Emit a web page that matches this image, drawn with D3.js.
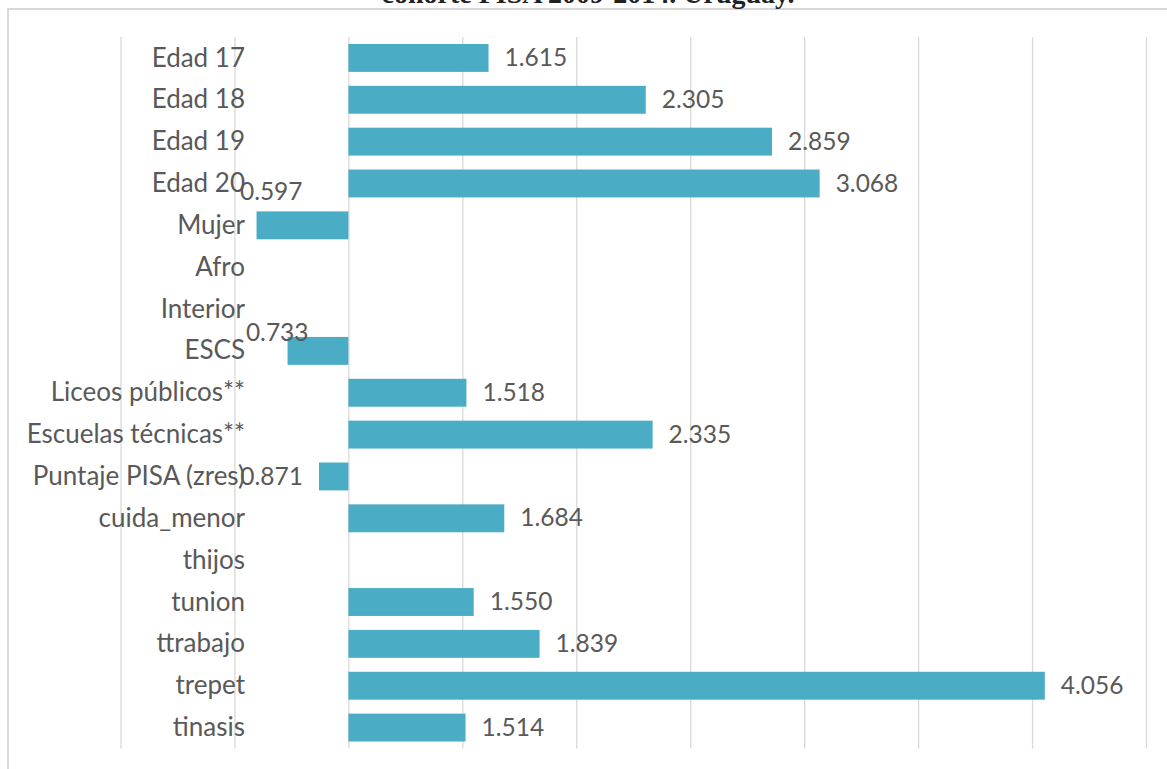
<!DOCTYPE html>
<html>
<head>
<meta charset="utf-8">
<script src="https://cdn.jsdelivr.net/npm/d3@7"></script>
<style>
  html, body { margin: 0; padding: 0; background: #fff; }
  svg { display: block; }
</style>
</head>
<body>
<svg id="chart" width="1167" height="769"></svg>
<script>
// ---- Data ----
const categories = ["Edad 17", "Edad 18", "Edad 19", "Edad 20", "Mujer", "Afro", "Interior", "ESCS",
  "Liceos públicos**", "Escuelas técnicas**", "Puntaje PISA (zres)", "cuida_menor", "thijos",
  "tunion", "ttrabajo", "trepet", "tinasis"];
const oddsRatios = [1.615, 2.305, 2.859, 3.068, 0.597, null, null, 0.733,
  1.518, 2.335, 0.871, 1.684, null, 1.550, 1.839, 4.056, 1.514];
const xTicks = [0, 0.5, 1, 1.5, 2, 2.5, 3, 3.5, 4, 4.5];
const titleText = "cohorte PISA 2009-2014. Uruguay.";

// ---- Layout ----
const svg = d3.select("#chart");
const plot = { left: 120.5, right: 1146, top: 37, bottom: 748.5 };
const baseValue = 1;
const font = "Lato, 'Open Sans', 'Liberation Sans', sans-serif";
const textColor = "#595959";

const x = d3.scaleLinear().domain([0, 4.5]).range([plot.left, plot.right]);
const y = d3.scaleBand().domain(categories).range([plot.top, plot.bottom]).paddingInner(1/3).paddingOuter(1/6);

// chart border (partially cropped)
svg.append("rect").attr("x", 8).attr("y", 9).attr("width", 1300).attr("height", 900)
  .attr("fill", "none").attr("stroke", "#d9d9d9").attr("stroke-width", 2);

// title (cropped at top, as in the reference)
svg.append("text").attr("x", 588).attr("y", 3).attr("text-anchor", "middle")
  .attr("font-family", "'Liberation Serif', 'DejaVu Serif', serif").attr("font-weight", "bold")
  .attr("font-size", 28).attr("fill", "#222").text(titleText);

// gridlines via axis
const gridAxis = d3.axisBottom(x).tickValues(xTicks).tickSize(-(plot.bottom - plot.top)).tickFormat("");
const g = svg.append("g").attr("transform", `translate(0,${plot.bottom})`).call(gridAxis);
g.select(".domain").remove();
g.selectAll(".tick line").attr("stroke", "#d9d9d9").attr("stroke-width", 1.3);

// bars
const rows = categories.map((c, i) => ({ cat: c, v: oddsRatios[i] }));
const withVal = rows.filter(d => d.v != null);
svg.append("g").selectAll("rect").data(withVal).join("rect")
  .attr("x", d => Math.min(x(d.v), x(baseValue)))
  .attr("width", d => Math.abs(x(d.v) - x(baseValue)))
  .attr("y", d => y(d.cat))
  .attr("height", y.bandwidth())
  .attr("fill", "#4bacc6");

// category labels
svg.append("g").selectAll("text").data(rows).join("text")
  .attr("x", 245).attr("y", d => y(d.cat) + y.bandwidth() / 2)
  .attr("dy", "0.33em").attr("text-anchor", "end")
  .attr("font-family", font).attr("font-size", 26).attr("fill", textColor)
  .text(d => d.cat);

// data labels
const fmt = d3.format(".3f");
const nudge = { "Mujer": [62, -33], "ESCS": [37, -18] };
svg.append("g").selectAll("text").data(withVal).join("text")
  .attr("x", d => {
    const n = nudge[d.cat] || [0, 0];
    return d.v >= baseValue ? x(d.v) + 16 : x(d.v) - 16 + n[0];
  })
  .attr("y", d => y(d.cat) + y.bandwidth() / 2 + (nudge[d.cat] || [0, 0])[1])
  .attr("dy", "0.33em")
  .attr("text-anchor", d => d.v >= baseValue ? "start" : "end")
  .attr("font-family", font).attr("font-size", 24.5).attr("fill", textColor)
  .text(d => fmt(d.v));
</script>
</body>
</html>
